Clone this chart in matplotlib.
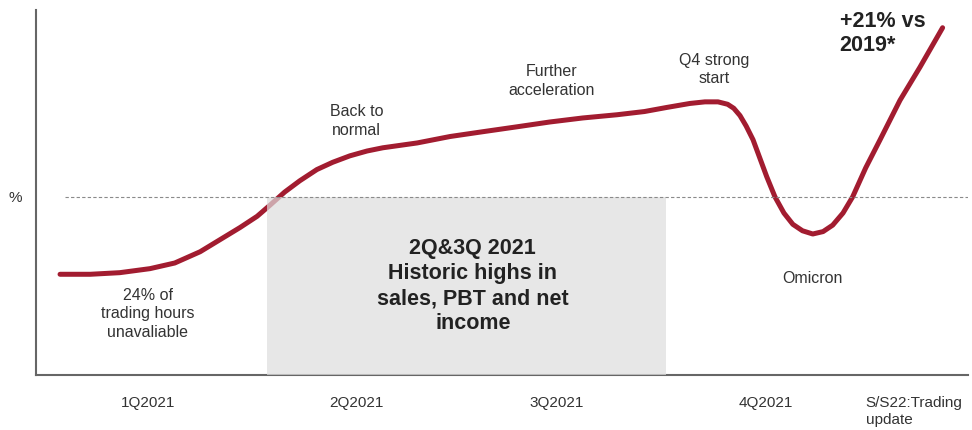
import matplotlib
matplotlib.use('Agg')
import matplotlib.pyplot as plt

plt.rcParams['font.family'] = ['Liberation Sans', 'DejaVu Sans']

# x = months since start of 2021, y = sales index (2019 = 100)
month = [0.22, 0.66, 1.09, 1.53, 1.89, 2.26, 2.55, 2.84, 3.09, 3.28, 3.49, 3.71,
         3.96, 4.19, 4.44, 4.69, 4.92, 5.42, 5.90, 6.38, 6.87, 7.35, 7.83, 8.33,
         8.73, 9.05, 9.39, 9.61, 9.80, 9.94, 10.03, 10.12, 10.21, 10.31, 10.41, 10.51,
         10.63, 10.76, 10.89, 11.03, 11.18, 11.33, 11.47, 11.62, 11.76, 11.95,
         12.16, 12.45, 12.74, 13.07]
sales_index = [90.4, 90.4, 90.6, 91.1, 91.8, 93.2, 94.7, 96.2, 97.6, 99.0, 100.6, 102.0,
               103.4, 104.3, 105.1, 105.7, 106.1, 106.7, 107.5, 108.1, 108.7, 109.3, 109.8, 110.2,
               110.6, 111.1, 111.6, 111.8, 111.8, 111.5, 111.0, 110.1, 108.8, 107.1, 104.8, 102.5,
               100.0, 98.0, 96.6, 95.8, 95.4, 95.7, 96.5, 98.0, 100.0, 103.6,
               107.1, 112.0, 116.1, 121.0]

baseline = 100
highs_start = 3.23
highs_end = 9.05

tick_pos = [1.5, 4.54, 7.45, 10.5, 11.95]
tick_labels = ['1Q2021', '2Q2021', '3Q2021', '4Q2021', 'S/S22:Trading\nupdate']

xmin, xmax = -0.13, 13.44
ymin, ymax = 77.9, 123.2

red = '#a21c30'
txt = '#333333'

fig = plt.figure(figsize=(9.72, 4.30), dpi=100)
ax = fig.add_axes([36/972, 55/430, 932/972, 365/430])

ax.plot(month, sales_index, color=red, lw=3.6, solid_capstyle='round',
        solid_joinstyle='round', zorder=2)

# grey box sits on top of the line (semi transparent)
ax.axvspan(highs_start, highs_end, ymin=0, ymax=(baseline - ymin) / (ymax - ymin),
           color='#dedede', alpha=0.7, lw=0, zorder=3)
ax.hlines(baseline, 0.29, xmax, colors='#8a8a8a', lw=0.8, linestyles=(0, (3, 2)), zorder=4)

ax.set_xlim(xmin, xmax)
ax.set_ylim(ymin, ymax)

for s in ['top', 'right']:
    ax.spines[s].set_visible(False)
for s in ['left', 'bottom']:
    ax.spines[s].set_color('#666666')
    ax.spines[s].set_linewidth(1.5)

ax.set_yticks([baseline])
ax.set_yticklabels(['%'], fontsize=11, color=txt)
ax.set_xticks(tick_pos)
ax.set_xticklabels(tick_labels, fontsize=11, color=txt)
ax.tick_params(axis='both', length=0)
ax.tick_params(axis='x', pad=15)
ax.tick_params(axis='y', pad=10)
last = ax.get_xticklabels()[-1]
last.set_horizontalalignment('left')
last.set_multialignment('left')
last.set_linespacing(1.3)

ax.text(1.5, 85.5, '24% of\ntrading hours\nunavaliable', ha='center', va='center',
        fontsize=11.5, color=txt, linespacing=1.3)
ax.text(4.54, 109.4, 'Back to\nnormal', ha='center', va='center',
        fontsize=11.5, color=txt, linespacing=1.3)
ax.text(7.37, 114.4, 'Further\nacceleration', ha='center', va='center',
        fontsize=11.5, color=txt, linespacing=1.3)
ax.text(9.75, 115.8, 'Q4 strong\nstart', ha='center', va='center',
        fontsize=11.5, color=txt, linespacing=1.3)
ax.text(11.17, 89.9, 'Omicron', ha='center', va='center', fontsize=11.5, color=txt)
ax.text(11.57, 120.3, '+21% vs\n2019*', ha='left', va='center', fontsize=15.5,
        fontweight='bold', color='#222222', linespacing=1.2)
ax.text(6.23, 88.9, '2Q&3Q 2021\nHistoric highs in\nsales, PBT and net\nincome',
        ha='center', va='center', fontsize=15.5, fontweight='bold', color='#222222',
        linespacing=1.25, zorder=5)

fig.savefig('out.png', dpi=100)
